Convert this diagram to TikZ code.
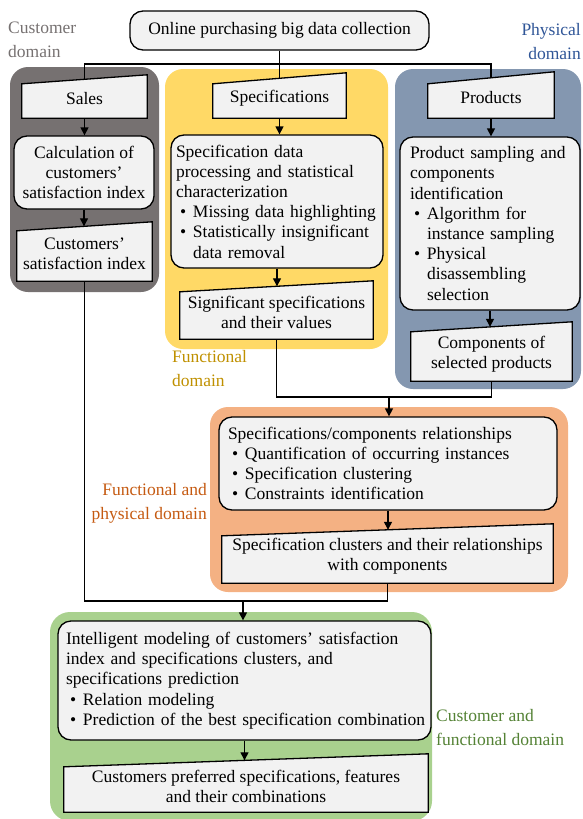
\documentclass[tikz,border=0pt]{standalone}
\usepackage{fontspec}
\setmainfont{Liberation Serif}
\usetikzlibrary{arrows.meta}
\definecolor{boxfill}{HTML}{F2F2F2}
\definecolor{custbg}{HTML}{767171}
\definecolor{funcbg}{HTML}{FFD966}
\definecolor{physbg}{HTML}{8497B0}
\definecolor{fpbg}{HTML}{F4B183}
\definecolor{cfbg}{HTML}{A9D18E}
\definecolor{custtx}{HTML}{767171}
\definecolor{functx}{HTML}{BF9000}
\definecolor{phystx}{HTML}{2F5597}
\definecolor{fptx}{HTML}{C55A11}
\definecolor{cftx}{HTML}{548235}
\pgfdeclarelayer{domainlayer}
\pgfdeclarelayer{shapelayer}
\pgfsetlayers{domainlayer,shapelayer,main}
\newcommand{\bitem}[1]{\mbox{\hspace*{4pt}\makebox[13pt][l]{\textbullet}#1}}
\newcommand{\bcont}{\hspace*{17pt}}
\tikzset{
  every node/.style={font=\fontsize{17.5}{20.2}\selectfont},
  rbox/.style={draw, fill=boxfill, rounded corners=13pt, line width=1.3pt, align=center, inner sep=2pt},
  lbox/.style={rbox, align=left},
  manin/.style={draw=none, fill=none, align=center, inner sep=2pt},
  manshape/.style={draw, fill=boxfill, line width=1.3pt, line join=miter},
  dombg/.style={rounded corners=18pt},
  lab/.style={font=\fontsize{17.5}{23.5}\selectfont, inner sep=0pt},
  conn/.style={line width=1.3pt},
  arr/.style={conn, -{Triangle[length=8pt,width=8pt]}}
}
\begin{document}
\begin{tikzpicture}[x=1pt,y=-1pt]
\useasboundingbox (0,0) rectangle (582,819);
% domains
\begin{pgfonlayer}{domainlayer}
\fill[custbg, dombg] (10,67) rectangle (159,292);
\fill[funcbg, dombg] (165,69) rectangle (388,349);
\fill[physbg, dombg] (395,69) rectangle (581,389);
\fill[fpbg, dombg] (210,407) rectangle (568,592);
\fill[cfbg, dombg, rounded corners=20pt] (50,612) rectangle (432,821);
\end{pgfonlayer}
% labels
\node[lab, text=custtx, align=left, anchor=west] (lcust) at (8,40) {Customer\\domain};
\node[lab, text=phystx, align=right, anchor=east] (lphys) at (581,41.5) {Physical\\domain};
\node[lab, text=functx, align=left, anchor=west] (lfunc) at (172,368.5) {Functional\\domain};
\node[lab, text=fptx, align=right, anchor=east] (lfp) at (207,503.5) {Functional and\\physical domain};
\node[lab, text=cftx, align=left, anchor=west] (lcf) at (436,727.5) {Customer and\\functional domain};
% top
\node[rbox, minimum width=299pt, minimum height=39pt] (top) at (279.5,30.5) {Online purchasing big data collection};
% manual input nodes
\node[manin, minimum width=125pt, minimum height=38.5pt] (sales) at (84.5,98.75) {Sales};
\node[manin, minimum width=135pt, minimum height=54.5pt] (csi) at (84.5,253.75) {Customers'\\satisfaction index};
\node[manin, minimum width=133pt, minimum height=39.5pt] (specs) at (279.5,98.25) {Specifications};
\node[manin, minimum width=193pt, minimum height=52.5pt] (sig) at (276.5,312.75) {Significant specifications\\and their values};
\node[manin, minimum width=126pt, minimum height=40pt] (prod) at (491,98) {Products};
\node[manin, minimum width=161pt, minimum height=54pt] (comp) at (491.5,354) {Components of\\selected products};
\node[manin, minimum width=331pt, minimum height=53pt] (clus) at (387.5,556.5) {Specification clusters and their relationships\\with components};
\node[manin, minimum width=364pt, minimum height=51.5pt] (pref) at (246,786.25) {Customers preferred specifications, features\\and their combinations};
% rounded process nodes
\node[rbox, minimum width=140pt, minimum height=73pt] (calc) at (84,172.5) {Calculation of\\customers'\\satisfaction index};
\node[lbox, minimum width=212pt, minimum height=133pt, inner xsep=5pt, text width=202pt] (proc) at (277,201.5)
 {Specification data\\processing and statistical\\characterization\\\bitem{Missing data highlighting}\\\bitem{Statistically insignificant}\\\bcont data removal};
\node[lbox, minimum width=180pt, minimum height=173pt, inner xsep=10pt, text width=160pt] (samp) at (490,223.5)
 {Product sampling and\\components\\identification\\\bitem{Algorithm for}\\\bcont instance sampling\\\bitem{Physical}\\\bcont disassembling\\\bcont selection};
\node[lbox, minimum width=338pt, minimum height=93pt, inner xsep=9pt, text width=320pt] (rel) at (388,463.5)
 {Specifications/components relationships\\\bitem{Quantification of occurring instances}\\\bitem{Specification clustering}\\\bitem{Constraints identification}};
\node[lbox, minimum width=373pt, minimum height=119pt, inner xsep=8pt, text width=357pt] (intel) at (244.5,680.5)
 {Intelligent modeling of customers' satisfaction\\index and specifications clusters, and\\specifications prediction\\\bitem{Relation modeling}\\\bitem{Prediction of the best specification combination}};
% manual input shapes
\begin{pgfonlayer}{shapelayer}
\foreach \n/\d in {sales/9,csi/9,specs/11,sig/11,prod/12,comp/10,clus/12,pref/13}
  \draw[manshape] (\n.south west) -- (\n.south east) -- ([yshift=0.5*\d pt]\n.north east) -- ([yshift=-0.5*\d pt]\n.north west) -- cycle;
\end{pgfonlayer}
% connectors
\coordinate (bus) at (279.5,64);
\draw[conn] (top.south) -- (specs.north);
\draw[conn] (sales.north) |- (bus) -| (prod.north);
\draw[arr] (sales.south) -- (sales.south |- calc.north);
\draw[arr] (calc.south) -- (calc.south |- csi.north);
\draw[arr] (specs.south) -- (specs.south |- proc.north);
\draw[arr] (proc.south) -- (proc.south |- sig.north);
\draw[arr] (prod.south) -- (prod.south |- samp.north);
\draw[arr] (samp.south) -- (samp.south |- comp.north);
\coordinate (j1) at (389,397);
\draw[conn] (sig.south) |- (j1) -| (comp.south);
\draw[arr] (j1) -- (j1 |- rel.north);
\draw[arr] (rel.south) -- (rel.south |- clus.north);
\coordinate (j2) at (243,601);
\draw[conn] (csi.south) |- (j2) -| (clus.south);
\draw[arr] (j2) -- (j2 |- intel.north);
\draw[arr] (intel.south) -- (intel.south |- pref.north);
\end{tikzpicture}
\end{document}
